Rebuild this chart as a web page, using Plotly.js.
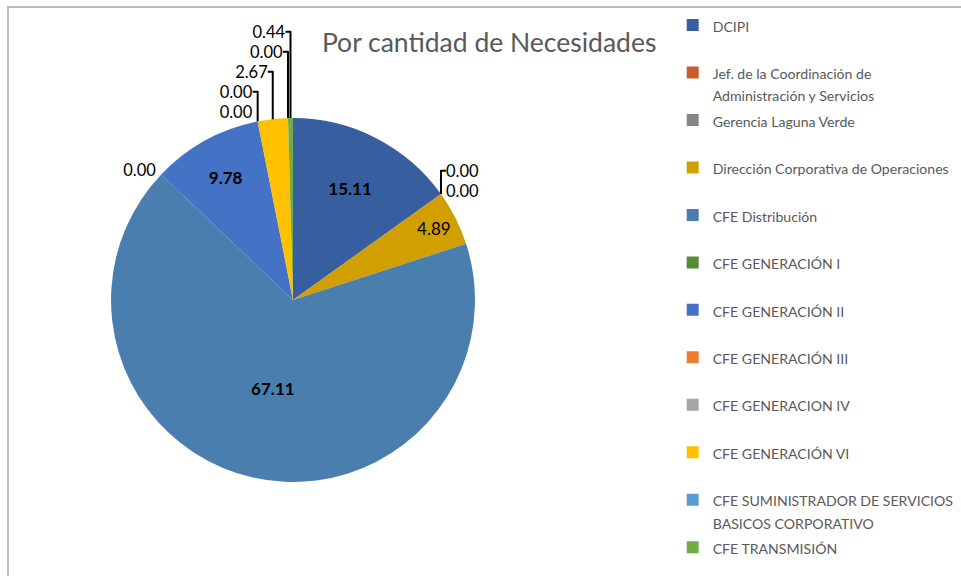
<!DOCTYPE html>
<html>
<head>
<meta charset="utf-8">
<script src="https://cdn.plot.ly/plotly-3.0.1.min.js"></script>
<style>
  html, body { margin: 0; padding: 0; background: #fff; }
  #chart { width: 961px; height: 576px; }
</style>
</head>
<body>
<div id="chart"></div>
<script>
'use strict';

const labels = [
  'DCIPI',
  'Jef. de la Coordinación de<br>Administración y Servicios',
  'Gerencia Laguna Verde',
  'Dirección Corporativa de Operaciones',
  'CFE Distribución',
  'CFE GENERACIÓN I',
  'CFE GENERACIÓN II',
  'CFE GENERACIÓN III',
  'CFE GENERACION IV',
  'CFE GENERACIÓN VI',
  'CFE SUMINISTRADOR DE SERVICIOS<br>BASICOS CORPORATIVO',
  'CFE TRANSMISIÓN'
];

const values = [15.11, 0.00, 0.00, 4.89, 67.11, 0.00, 9.78, 0.00, 0.00, 2.67, 0.00, 0.44];

const colors = [
  '#375FA0', '#C65F2B', '#868686', '#D29F00', '#4A7EAF', '#568B36',
  '#4472C4', '#ED7D31', '#A5A5A5', '#FFC000', '#5B9BD5', '#70AD47'
];

// labels shown inside the slice (bold ones) vs outside
const insideBold = new Set(['DCIPI', 'CFE Distribución', 'CFE GENERACIÓN II']);
const insidePlain = new Set(['Dirección Corporativa de Operaciones']);

// legend entries are padded to two lines so the items spread down the page
const legendText = labels.map((l, i) => {
  const lines = l.split('<br>').map(s => `<span style="font-size:14.1px">${s}</span>`);
  if (lines.length == 1 && i < labels.length - 1) {
    lines.push('&nbsp;');
  }
  return lines.join('<br>');
});

const data = [{
  type: 'pie',
  labels: legendText,
  values: values,
  sort: false,
  direction: 'clockwise',
  rotation: 0,
  marker: { colors: colors, line: { width: 0 } },
  textposition: labels.map(l => (insideBold.has(l) || insidePlain.has(l)) ? 'inside' : 'outside'),
  texttemplate: labels.map(l => insideBold.has(l) ? '<b>%{value:.2f}</b>' : '%{value:.2f}'),
  insidetextorientation: 'horizontal',
  insidetextfont: { family: 'Lato, sans-serif', size: 17, color: '#000' },
  outsidetextfont: { family: 'Lato, sans-serif', size: 16.5, color: '#000' },
  automargin: false,
  hoverinfo: 'label+value',
  domain: { x: [0.1155, 0.4943], y: [0.1632, 0.7951] }
}];

const layout = {
  width: 961,
  height: 576,
  margin: { l: 0, r: 0, t: 0, b: 0, autoexpand: false },
  paper_bgcolor: '#fff',
  font: { family: 'Lato, sans-serif', color: '#595959' },
  title: {
    text: 'Por cantidad de Necesidades',
    font: { family: 'Lato, sans-serif', size: 26.5, color: '#595959' },
    x: 0.509,
    xanchor: 'center',
    y: 0.925,
    yanchor: 'middle'
  },
  showlegend: true,
  legend: {
    x: 0.700,
    xanchor: 'left',
    y: 0.987,
    yanchor: 'top',
    valign: 'top',
    font: { family: 'Lato, sans-serif', size: 17.1, color: '#595959' },
    bgcolor: 'rgba(0,0,0,0)'
  },
  shapes: [{
    type: 'rect',
    xref: 'paper',
    yref: 'paper',
    x0: 8 / 961,
    x1: 1.02,
    y0: -0.02,
    y1: 1 - 7 / 576,
    line: { color: '#A6A6A6', width: 1.5 }
  }]
};

Plotly.newPlot('chart', data, layout, { displayModeBar: false, staticPlot: true });
</script>
</body>
</html>
